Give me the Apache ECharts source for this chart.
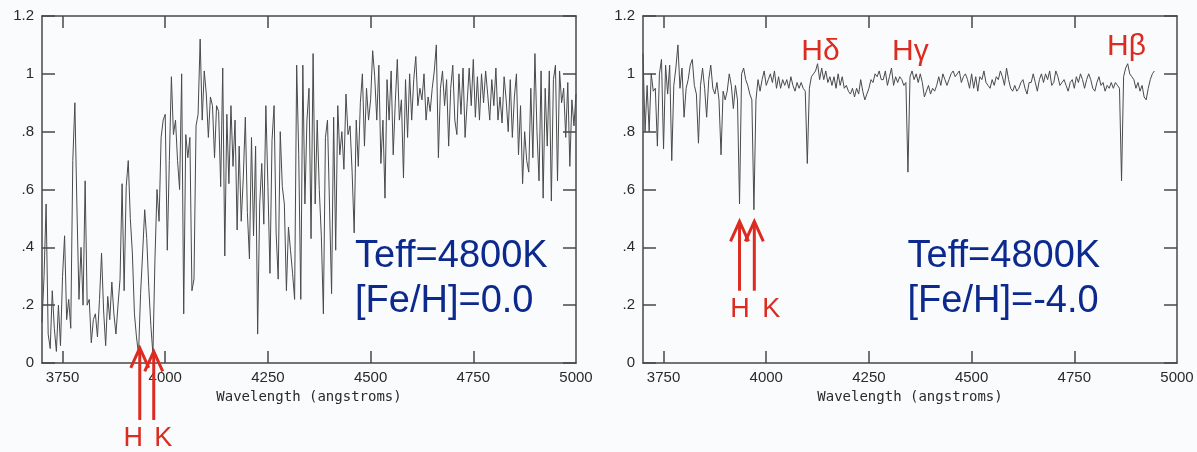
<!DOCTYPE html>
<html>
<head>
<meta charset="utf-8">
<script src="https://cdn.jsdelivr.net/npm/echarts@6/dist/echarts.min.js"></script>
<style>
  html, body { margin: 0; padding: 0; background: #f9fbfc; }
  #chart { width: 1197px; height: 452px; }
</style>
</head>
<body>
<div id="chart"></div>
<script>
// Spectra sampled on a regular grid: wavelength = waveStart + i * waveStep (angstroms)
const waveStart = 3700
const waveStep = 5

// Teff=4800K, [Fe/H]=0.0 (3700 .. 5000 A)
const leftFlux = [
  0.14, 0.30, 0.55, 0.10, 0.05, 0.25, 0.12, 0.04, 0.20, 0.06,
  0.30, 0.44, 0.15, 0.22, 0.12, 0.70, 0.90, 0.54, 0.22, 0.40,
  0.20, 0.63, 0.20, 0.22, 0.07, 0.15, 0.17, 0.09, 0.22, 0.38,
  0.18, 0.06, 0.23, 0.15, 0.28, 0.17, 0.10, 0.20, 0.29, 0.62,
  0.25, 0.61, 0.70, 0.50, 0.38, 0.17, 0.09, 0.03, 0.24, 0.38,
  0.53, 0.43, 0.26, 0.13, 0.03, 0.36, 0.60, 0.49, 0.78, 0.84,
  0.86, 0.39, 0.70, 0.99, 0.79, 0.84, 0.70, 0.60, 1.00, 0.17,
  0.79, 0.71, 0.78, 0.25, 0.29, 0.82, 0.86, 1.12, 0.84, 1.01,
  0.93, 0.78, 0.92, 0.89, 0.71, 0.89, 0.87, 0.61, 1.02, 0.37,
  0.86, 0.62, 0.89, 0.68, 0.84, 0.46, 0.75, 0.49, 0.64, 0.85,
  0.52, 0.36, 0.78, 0.44, 0.75, 0.10, 0.55, 0.69, 0.48, 0.89,
  0.61, 0.31, 0.77, 0.89, 0.45, 0.29, 0.80, 0.61, 0.55, 0.25,
  0.47, 0.39, 0.31, 0.22, 1.03, 0.72, 0.22, 1.03, 0.55, 0.84,
  0.95, 0.43, 1.07, 0.55, 0.84, 0.60, 0.44, 0.17, 0.78, 0.84,
  0.54, 0.24, 0.85, 0.39, 0.89, 0.72, 0.80, 0.67, 0.93, 0.79,
  0.82, 0.66, 0.45, 0.84, 0.68, 0.90, 1.00, 0.75, 0.95, 0.84,
  0.91, 1.08, 0.99, 0.84, 1.03, 0.69, 0.84, 0.57, 0.98, 0.84,
  1.01, 0.72, 0.90, 1.05, 0.84, 0.91, 0.64, 0.98, 0.78, 1.00,
  0.84, 0.98, 1.06, 0.89, 0.95, 0.91, 1.00, 0.84, 0.92, 0.87,
  0.95, 1.01, 1.10, 0.71, 0.95, 1.01, 0.89, 0.98, 0.75, 0.95,
  1.03, 0.84, 0.79, 1.00, 0.86, 1.02, 0.78, 0.90, 1.02, 0.89,
  1.05, 0.85, 0.99, 0.84, 1.00, 0.90, 1.01, 0.93, 0.84, 0.98,
  0.89, 1.02, 0.84, 0.92, 0.83, 0.99, 0.91, 0.80, 0.98, 0.78,
  0.92, 1.00, 0.72, 0.89, 0.62, 0.80, 0.70, 0.66, 0.95, 0.71,
  1.07, 0.80, 0.63, 1.01, 0.57, 0.95, 0.75, 1.01, 0.56, 0.98,
  1.03, 0.63, 1.01, 0.90, 0.95, 0.78, 0.97, 0.68, 0.91, 0.82, 0.93
]

// Teff=4800K, [Fe/H]=-4.0 (3700 .. 4945 A)
const rightFlux = [
  1.07, 0.80, 0.96, 0.80, 1.00, 0.94, 0.95, 0.75, 1.00, 1.05,
  0.74, 1.03, 0.93, 1.03, 0.70, 0.96, 1.02, 1.10, 0.95, 1.02,
  0.85, 0.95, 0.98, 1.03, 1.05, 0.96, 0.93, 0.76, 0.96, 1.02,
  0.95, 0.85, 0.98, 1.03, 0.95, 0.93, 0.97, 0.91, 0.72, 0.94,
  0.91, 0.94, 1.00, 0.96, 0.88, 0.96, 0.91, 0.55, 1.00, 1.02,
  0.98, 0.96, 0.93, 0.91, 0.53, 0.91, 0.98, 0.94, 0.98, 1.01,
  0.96, 0.98, 1.00, 0.97, 1.01, 0.95, 0.99, 0.95, 0.98, 0.96,
  0.98, 0.95, 0.99, 0.96, 0.94, 0.97, 0.95, 0.97, 0.95, 0.94,
  0.69, 0.95, 0.99, 1.00, 1.01, 1.035, 0.98, 1.02, 0.98, 1.01,
  0.97, 0.99, 0.96, 0.99, 0.95, 1.00, 0.96, 0.99, 0.95, 0.96,
  0.94, 0.93, 0.95, 0.92, 0.95, 0.93, 0.98, 0.94, 0.91, 0.93,
  0.95, 0.98, 0.97, 1.00, 0.99, 1.01, 0.98, 0.98, 1.01, 0.96,
  0.99, 1.02, 0.96, 0.99, 0.97, 0.99, 0.98, 0.96, 0.97, 0.66,
  0.99, 1.01, 0.98, 1.00, 0.97, 1.00, 0.97, 0.92, 0.94, 0.96,
  0.93, 0.95, 0.94, 0.96, 0.99, 0.96, 1.00, 0.98, 0.96, 0.98,
  1.00, 1.01, 0.99, 1.00, 1.01, 0.97, 0.99, 1.00, 0.98, 0.95,
  1.00, 0.95, 0.99, 0.94, 0.99, 0.98, 1.01, 0.97, 0.96, 0.95,
  0.98, 0.96, 0.99, 0.98, 1.01, 0.99, 0.96, 1.02, 0.98, 0.95,
  0.94, 0.96, 0.94, 0.95, 0.97, 0.98, 0.95, 0.93, 0.97, 0.97,
  1.00, 0.97, 0.94, 0.98, 1.00, 0.97, 1.00, 0.98, 1.01, 0.96,
  0.97, 1.01, 0.99, 0.96, 0.97, 0.98, 0.96, 0.94, 0.97, 0.98,
  0.95, 0.99, 0.97, 1.00, 0.98, 0.95, 0.98, 1.00, 0.98, 0.95,
  0.94, 0.97, 0.99, 0.96, 0.97, 0.94, 0.96, 0.95, 0.97, 0.95,
  0.97, 0.96, 0.95, 0.63, 0.99, 1.02, 1.035, 1.00, 0.99, 0.98,
  0.95, 0.97, 0.94, 0.96, 0.92, 0.91, 0.95, 0.98, 1.00, 1.01
]

const tickWaves = [3750, 4000, 4250, 4500, 4750]
const labelWaves = [3750, 4000, 4250, 4500, 4750, 5000]
const xTitle = 'Wavelength (angstroms)'
const leftInfo = ['Teff=4800K', '[Fe/H]=0.0']
const rightInfo = ['Teff=4800K', '[Fe/H]=-4.0']
const caLines = ['H', 'K']
const balmerLines = ['Hδ', 'Hγ', 'Hβ']

const AXIS = '#484848'
const TEXT = '#2a2a2a'
const BLUE = '#0c2a8e'
const RED = '#dc2b20'

const chart = echarts.init(document.getElementById('chart'))

function toPoints (flux) {
  return flux.map((v, i) => [waveStart + i * waveStep, v])
}

function yLabel (v) {
  const s = String(Math.round(v * 10) / 10)
  return s.replace(/^0\./, '.')
}

function xAxesFor (grid) {
  const base = {
    gridIndex: grid,
    type: 'value',
    min: 3700,
    max: 5000,
    splitLine: { show: false },
    axisLine: { show: true, onZero: false, lineStyle: { color: AXIS, width: 1.5 } },
    axisTick: { show: true, inside: true, length: 12, customValues: tickWaves, lineStyle: { color: AXIS, width: 1.5 } }
  }
  return [
    Object.assign({}, base, {
      position: 'bottom',
      axisLabel: {
        customValues: labelWaves,
        formatter: (v) => String(v),
        margin: 7,
        color: TEXT,
        fontSize: 15,
        fontFamily: 'Liberation Sans'
      },
      name: xTitle,
      nameLocation: 'middle',
      nameGap: 26,
      nameTextStyle: { color: TEXT, fontSize: 14, fontFamily: 'DejaVu Sans Mono' }
    }),
    Object.assign({}, base, { position: 'top', axisLabel: { show: false } })
  ]
}

function yAxesFor (grid) {
  const base = {
    gridIndex: grid,
    type: 'value',
    min: 0,
    max: 1.2,
    interval: 0.2,
    splitLine: { show: false },
    axisLine: { show: true, onZero: false, lineStyle: { color: AXIS, width: 1.5 } },
    axisTick: { show: true, inside: true, length: 13, lineStyle: { color: AXIS, width: 1.5 } }
  }
  return [
    Object.assign({}, base, {
      position: 'left',
      axisLabel: { margin: 8, color: TEXT, fontSize: 15, fontFamily: 'Liberation Sans', formatter: yLabel }
    }),
    Object.assign({}, base, { position: 'right', axisLabel: { show: false } })
  ]
}

const spectrumStyle = { color: '#4a4a4a', width: 1 }

chart.setOption({
  backgroundColor: '#f9fbfc',
  animation: false,
  grid: [
    { left: 42, top: 16, width: 534, height: 347 },
    { left: 643, top: 16, width: 534, height: 347 }
  ],
  xAxis: xAxesFor(0).concat(xAxesFor(1)),
  yAxis: yAxesFor(0).concat(yAxesFor(1)),
  series: [
    {
      type: 'line',
      xAxisIndex: 0,
      yAxisIndex: 0,
      showSymbol: false,
      lineStyle: spectrumStyle,
      data: toPoints(leftFlux)
    },
    {
      type: 'line',
      xAxisIndex: 2,
      yAxisIndex: 2,
      showSymbol: false,
      lineStyle: spectrumStyle,
      data: toPoints(rightFlux)
    }
  ]
})

// annotations, placed in data coordinates of each panel
function px (panel, wave, flux) {
  const idx = panel === 0 ? 0 : 2
  return chart.convertToPixel({ xAxisIndex: idx, yAxisIndex: idx }, [wave, flux])
}

function label (panel, wave, flux, text, size, color, align) {
  const p = px(panel, wave, flux)
  return {
    type: 'text',
    x: p[0],
    y: p[1],
    z: 100,
    style: {
      text,
      fill: color,
      font: size + 'px "Liberation Sans", Arial, sans-serif',
      align: align,
      textAlign: align,
      verticalAlign: 'middle',
      textVerticalAlign: 'middle'
    }
  }
}

function arrow (panel, wave, tipFlux, tailFlux) {
  const tip = px(panel, wave, tipFlux)
  const tail = px(panel, wave, tailFlux)
  const stroke = { stroke: RED, lineWidth: 3, fill: null, lineJoin: 'miter' }
  return [
    { type: 'polyline', z: 100, shape: { points: [[tip[0], tip[1] + 2], [tail[0], tail[1]]] }, style: stroke },
    { type: 'polyline', z: 100, shape: { points: [[tip[0] - 9, tip[1] + 20], [tip[0], tip[1]], [tip[0] + 9, tip[1] + 20]] }, style: stroke }
  ]
}

const graphics = [].concat(
  label(0, 4462, 0.367, leftInfo[0], 38, BLUE, 'left'),
  label(0, 4462, 0.211, leftInfo[1], 38, BLUE, 'left'),
  label(1, 4344, 0.367, rightInfo[0], 38, BLUE, 'left'),
  label(1, 4344, 0.211, rightInfo[1], 38, BLUE, 'left'),
  arrow(0, 3938, 0.052, -0.197),
  arrow(0, 3972, 0.040, -0.197),
  label(0, 3922, -0.261, caLines[0], 27, RED, 'center'),
  label(0, 3995, -0.261, caLines[1], 27, RED, 'center'),
  arrow(1, 3935, 0.49, 0.25),
  arrow(1, 3971, 0.49, 0.25),
  label(1, 3936, 0.185, caLines[0], 27, RED, 'center'),
  label(1, 4012, 0.185, caLines[1], 27, RED, 'center'),
  label(1, 4132, 1.078, balmerLines[0], 30, RED, 'center'),
  label(1, 4351, 1.078, balmerLines[1], 30, RED, 'center'),
  label(1, 4877, 1.095, balmerLines[2], 30, RED, 'center')
)

chart.setOption({ graphic: graphics })
</script>
</body>
</html>
